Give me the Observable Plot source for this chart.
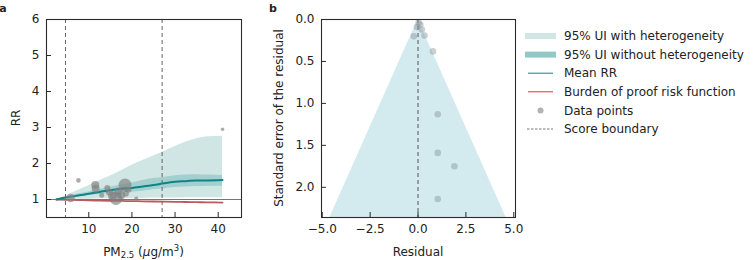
<!DOCTYPE html>
<html><head><meta charset="utf-8">
<script src="https://cdn.jsdelivr.net/npm/d3@7"></script>
<script src="https://cdn.jsdelivr.net/npm/@observablehq/plot@0.6"></script>
<style>
body{margin:0;background:#fff;font-family:"DejaVu Sans",sans-serif;}
#wrap{position:relative;width:753px;height:260px;overflow:hidden;background:#fff;}
#wrap > svg{position:absolute;top:0;}
</style></head><body><div id="wrap"></div>
<script>
// ---------- Panel a: exposure-response ----------
const pm      = [2.5, 5, 7.5, 10, 12.5, 15, 17.5, 20, 22.5, 25, 27.5, 30, 32.5, 35, 37.5, 41];
const meanRR  = [1.00,1.06,1.11,1.16,1.21,1.26,1.30,1.32,1.36,1.40,1.45,1.49,1.51,1.53,1.53,1.54];
const hetLo   = [1.00,1.00,1.01,1.01,1.02,1.02,1.03,1.03,1.03,1.04,1.04,1.04,1.05,1.05,1.05,1.05];
const hetHi   = [1.00,1.12,1.25,1.38,1.52,1.65,1.80,1.95,2.08,2.21,2.33,2.47,2.60,2.69,2.74,2.76];
const uiLo    = [1.00,1.04,1.08,1.11,1.14,1.17,1.19,1.20,1.23,1.27,1.30,1.33,1.35,1.36,1.37,1.37];
const uiHi    = [1.00,1.08,1.15,1.21,1.28,1.34,1.40,1.46,1.53,1.58,1.62,1.66,1.68,1.69,1.68,1.67];
const bprf    = [1.00,0.99,0.985,0.975,0.97,0.965,0.96,0.955,0.95,0.945,0.94,0.935,0.93,0.925,0.92,0.915];
const scoreBounds = [4.6, 27];
const xTicksA = [10, 20, 30, 40];
const yTicksA = [1, 2, 3, 4, 5, 6];

const ptX      = [5.8, 7.6, 11.5, 11.6, 13.0, 14.3, 14.8, 15.5, 16.3, 16.8, 17.5, 18.4, 18.6, 19.2, 21.0, 41.0];
const ptRR     = [1.04,1.53,1.40,1.30,1.12,1.32,1.20,1.10,1.03,1.22,1.12,1.40,1.16,1.27,1.03,2.95];
const ptWeight = [4.3, 2.3, 4.0, 4.0, 2.5, 3.0, 3.5, 4.5, 6.5, 4.0, 4.0, 6.5, 3.0, 3.0, 2.0, 1.8];

// ---------- Panel b: funnel ----------
const resid = [0.03, -0.05, 0.20, 0.34, -0.22, 0.12, 0.78, 1.03, 1.03, 1.90, 1.03];
const seRes = [0.04, 0.09, 0.12, 0.19, 0.20, 0.06, 0.38, 1.13, 1.59, 1.75, 2.14];
const funnelSE = [0, 2.36];
const funnelLo = [0, -4.6];
const funnelHi = [0, 4.6];
const xTicksB = [-5, -2.5, 0, 2.5, 5];
const yTicksB = [0, 0.5, 1, 1.5, 2];

// legend
const legendLabels = ["95% UI with heterogeneity","95% UI without heterogeneity","Mean RR","Burden of proof risk function","Data points","Score boundary"];

const curve = pm.map((x,i)=>({x, mean:meanRR[i], hl:hetLo[i], hh:hetHi[i], lo:uiLo[i], hi:uiHi[i], b:bprf[i]}));
const pts = ptX.map((x,i)=>({x, y:ptRR[i], w:ptWeight[i]}));
const fun = funnelSE.map((s,i)=>({s, lo:funnelLo[i], hi:funnelHi[i]}));
const fpts = resid.map((r,i)=>({r, s:seRes[i]}));

const TEAL = "#0b8585";
const INK = "#2a2a2a";
const baseStyle = {fontFamily:"DejaVu Sans", fontSize:"12px", color:"#222", background:"transparent", overflow:"visible"};
const TICK = 5;

// inward tick marks, drawn as axis ticks shifted into the frame
function inwardTicks(xt, yt) {
  return [
    Plot.axisX(xt, {anchor:"bottom", tickSize:TICK, dy:-TICK, tickFormat:()=>"", label:null, stroke:INK, strokeWidth:1}),
    Plot.axisY(yt, {anchor:"left", tickSize:TICK, dx:TICK, tickFormat:()=>"", label:null, stroke:INK, strokeWidth:1})
  ];
}

const plotA = Plot.plot({
  width: 250, height: 260,
  marginLeft: 46, marginRight: 9, marginTop: 19, marginBottom: 43,
  style: baseStyle,
  x: {domain:[0.2, 45.4], label:null},
  y: {domain:[0.5, 6], label:null},
  r: {type:"linear", domain:[0,10], range:[0,10]},
  marks: [
    Plot.areaY(curve, {x:"x", y1:"hl", y2:"hh", fill:"#cfe6e5", curve:"monotone-x"}),
    Plot.areaY(curve, {x:"x", y1:"lo", y2:"hi", fill:"#a3d0cf", curve:"monotone-x"}),
    Plot.ruleY([1], {stroke:"#777", strokeWidth:1}),
    Plot.lineY(curve, {x:"x", y:"b", stroke:"#b85a5e", strokeWidth:1.8, curve:"monotone-x"}),
    Plot.lineY(curve, {x:"x", y:"mean", stroke:TEAL, strokeWidth:2, curve:"monotone-x"}),
    Plot.dot(pts, {x:"x", y:"y", r:"w", fill:"#808080", fillOpacity:0.65, stroke:null}),
    Plot.ruleX(scoreBounds, {stroke:"#666", strokeWidth:1, strokeDasharray:"4,3"}),
    Plot.axisX(xTicksA, {anchor:"bottom", tickSize:0, tickPadding:7, label:null}),
    Plot.axisY(yTicksA, {anchor:"left", tickSize:0, tickPadding:7, tickFormat:d3.format("d"), label:null}),
    ...inwardTicks(xTicksA, yTicksA),
    Plot.frame({stroke:INK, strokeWidth:1.1})
  ]
});

const plotB = Plot.plot({
  width: 265, height: 260,
  marginLeft: 61, marginRight: 10, marginTop: 19, marginBottom: 43,
  style: baseStyle,
  x: {domain:[-5.04, 5.09], label:null},
  y: {domain:[0, 2.36], reverse:true, label:null},
  marks: [
    Plot.areaX(fun, {y:"s", x1:"lo", x2:"hi", fill:"#d3eaef"}),
    Plot.ruleX([0], {stroke:"#555", strokeWidth:1, strokeDasharray:"4,3"}),
    Plot.dot(fpts, {x:"r", y:"s", r:3.3, fill:"#8a9496", fillOpacity:0.45, stroke:null}),
    Plot.axisX(xTicksB, {anchor:"bottom", tickSize:0, tickPadding:7, tickFormat:d3.format(".1f"), label:null}),
    Plot.axisY(yTicksB, {anchor:"left", tickSize:0, tickPadding:7, tickFormat:d3.format(".1f"), label:null}),
    ...inwardTicks(xTicksB, yTicksB),
    Plot.frame({stroke:INK, strokeWidth:1.1})
  ]
});

const wrap = document.getElementById("wrap");
plotA.style.left = "0px";
plotB.style.left = "260px";
wrap.appendChild(plotA);
wrap.appendChild(plotB);

function addText(svg, attrs, text){
  const t = d3.select(svg).append("text").attr("font-family","DejaVu Sans").attr("fill","#222");
  for (const k in attrs) t.attr(k, attrs[k]);
  if (text != null) t.text(text);
  return t;
}
// panel a labels
addText(plotA, {x:3, y:12, "font-size":11, "font-weight":"bold"}, "a");
addText(plotA, {transform:"translate(20,118) rotate(-90)", "text-anchor":"middle", "font-size":12}, "RR");
const xl = addText(plotA, {x:143.5, y:255.5, "text-anchor":"middle", "font-size":12});
xl.append("tspan").text("PM");
xl.append("tspan").attr("font-size",8.5).attr("dy",2.5).text("2.5");
xl.append("tspan").attr("dy",-2.5).text(" (");
xl.append("tspan").attr("font-style","italic").text("\u03bc");
xl.append("tspan").text("g/m");
xl.append("tspan").attr("font-size",8.5).attr("dy",-4.5).text("3");
xl.append("tspan").attr("dy",4.5).text(")");
// panel b labels
addText(plotB, {x:13, y:12, "font-size":11, "font-weight":"bold"}, "b");
addText(plotB, {transform:"translate(22.5,118) rotate(-90)", "text-anchor":"middle", "font-size":12}, "Standard error of the residual");
addText(plotB, {x:158, y:255.5, "text-anchor":"middle", "font-size":12}, "Residual");

// legend
const lg = d3.select(wrap).append("svg").attr("width",228).attr("height",150)
  .style("left","525px").style("top","0px").style("position","absolute");
const rowY = i => 36 + i*18.6;
lg.append("rect").attr("x",0).attr("y",rowY(0)-3).attr("width",31).attr("height",6).attr("fill","#cfe6e5");
lg.append("rect").attr("x",0).attr("y",rowY(1)-3).attr("width",31).attr("height",6).attr("fill","#93c8c7");
lg.append("line").attr("x1",3).attr("x2",28).attr("y1",rowY(2)).attr("y2",rowY(2)).attr("stroke",TEAL).attr("stroke-width",1);
lg.append("line").attr("x1",3).attr("x2",28).attr("y1",rowY(3)).attr("y2",rowY(3)).attr("stroke","#e0383b").attr("stroke-width",1);
lg.append("circle").attr("cx",15.5).attr("cy",rowY(4)).attr("r",3).attr("fill","#808080").attr("fill-opacity",0.6);
lg.append("line").attr("x1",2).attr("x2",28).attr("y1",rowY(5)).attr("y2",rowY(5)).attr("stroke","#777").attr("stroke-width",1).attr("stroke-dasharray","2.5,1.5");
legendLabels.forEach((s,i)=>{
  lg.append("text").attr("x",39).attr("y",rowY(i)).attr("dy","0.35em")
    .attr("font-family","DejaVu Sans").attr("font-size",12).attr("fill","#222").text(s);
});
</script></body></html>
